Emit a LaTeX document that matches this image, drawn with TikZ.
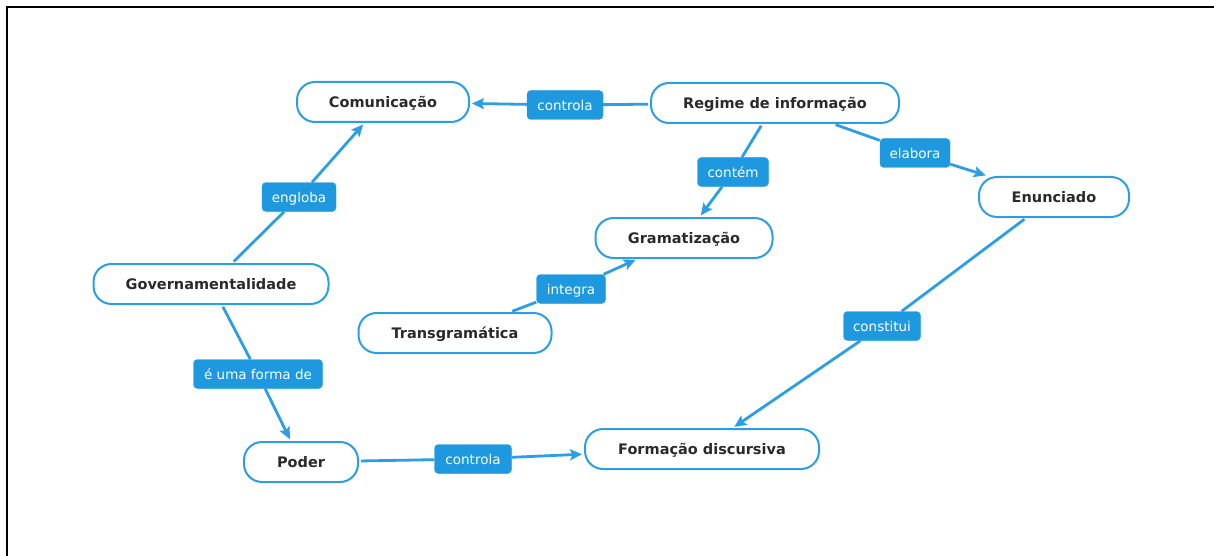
\documentclass[tikz,border=0pt]{standalone}
\usepackage{fontspec}
\setmainfont{DejaVu Sans}
\usetikzlibrary{arrows.meta}
\definecolor{cblue}{HTML}{2C9FE2}
\definecolor{lblue}{HTML}{1E98DE}
\definecolor{ntext}{HTML}{2A2A2A}
\tikzset{
  concept/.style={draw=cblue, line width=2pt, fill=white, rounded corners=18pt,
    minimum height=40pt, inner sep=0pt, text=ntext, text height=12pt, text depth=1pt,
    font=\fontsize{14.5}{17}\selectfont\bfseries},
  lab/.style={fill=lblue, draw=lblue, rounded corners=4pt, minimum height=29pt,
    inner sep=0pt, text=white, text height=12pt, text depth=1pt, font=\fontsize{13.5}{16}\selectfont},
  link/.style={draw=cblue, line width=2.8pt, shorten <=2pt},
  arr/.style={draw=cblue, line width=2.8pt, shorten >=2pt,
    -{Stealth[length=12pt,width=11pt,inset=2.5pt]}}
}
\begin{document}
\begin{tikzpicture}[x=1pt,y=-1pt]
\useasboundingbox (0,0) rectangle (1214,556);
\draw[line width=2pt] (7,556) -- (7,7) -- (1214,7);
% concepts
\node[concept, minimum width=172pt] (com) at (383,102) {Comunicação};
\node[concept, minimum width=248pt] (reg) at (775,103) {Regime de informação};
\node[concept, minimum width=150pt] (enu) at (1054,197) {Enunciado};
\node[concept, minimum width=177pt] (gra) at (684,238) {Gramatização};
\node[concept, minimum width=235pt] (gov) at (211,284) {Governamentalidade};
\node[concept, minimum width=193pt] (tra) at (455,333) {Transgramática};
\node[concept, minimum width=114pt] (pod) at (301,462) {Poder};
\node[concept, minimum width=234pt] (for) at (702,449) {Formação discursiva};
% labels
\node[lab, minimum width=76pt] (l1) at (565,105) {controla};
\node[lab, minimum width=71pt] (l2) at (733,172) {contém};
\node[lab, minimum width=70pt] (l3) at (915,153) {elabora};
\node[lab, minimum width=74pt] (l4) at (299,197) {engloba};
\node[lab, minimum width=69pt] (l5) at (571,289) {integra};
\node[lab, minimum width=77pt] (l6) at (882,326) {constitui};
\node[lab, minimum width=129pt] (l7) at (258,374) {é uma forma de};
\node[lab, minimum width=77pt] (l8) at (473,459) {controla};
% links
\draw[link] (reg) -- (l1);  \draw[arr] (l1) -- (com);
\draw[link] (reg) -- (l2);  \draw[arr] (l2) -- (gra);
\draw[link] (reg) -- (l3);  \draw[arr] (l3) -- (enu);
\draw[link] (gov) -- (l4);  \draw[arr] (l4) -- (com);
\draw[link] (tra) -- (l5);  \draw[arr] (l5) -- (gra);
\draw[link] (enu) -- (l6);  \draw[arr] (l6) -- (for);
\draw[link] (gov) -- (l7);  \draw[arr] (l7) -- (pod);
\draw[link] (pod) -- (l8);  \draw[arr] (l8) -- (for);
\end{tikzpicture}
\end{document}
